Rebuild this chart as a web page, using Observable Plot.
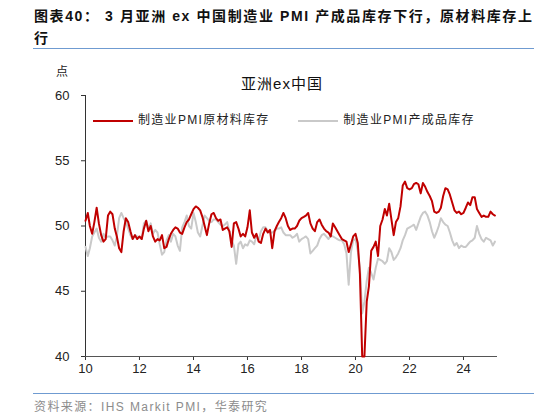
<!DOCTYPE html>
<html>
<head>
<meta charset="utf-8">
<script src="https://cdn.jsdelivr.net/npm/d3@7"></script>
<script src="https://cdn.jsdelivr.net/npm/@observablehq/plot@0.6"></script>
<style>
  body { margin: 0; background: #fff; font-family: "Liberation Sans", "Noto Sans CJK SC", sans-serif; }
  #wrap { position: relative; width: 534px; height: 417px; overflow: hidden; }
  #title { position: absolute; left: 34px; top: 5px; width: 510px; font-size: 14px; font-weight: bold; line-height: 22px; letter-spacing: 1.6px; color: #111; white-space: nowrap; }
  .rule { position: absolute; left: 33px; width: 501px; height: 1px; background: #6f9bd1; }
  #unit { position: absolute; left: 56px; top: 62px; font-size: 12px; color: #222; }
  #sub { position: absolute; left: 15px; width: 534px; top: 72px; text-align: center; font-size: 15px; color: #111; letter-spacing: 1px; }
  #legend { position: absolute; left: 93px; top: 110px; font-size: 12px; color: #222; letter-spacing: 1.3px; white-space: nowrap; }
  #legend span.sw { display: inline-block; width: 40px; height: 2px; vertical-align: middle; margin-right: 5px; }
  #legend span.item { display: inline-block; margin-right: 24px; }
  #chart { position: absolute; left: 0; top: 55px; }
  #source { position: absolute; left: 34px; top: 397px; font-size: 12px; color: #8c8c8c; letter-spacing: 1.4px; }
</style>
</head>
<body>
<div id="wrap">
  <div id="title">图表40： 3 月亚洲 ex 中国制造业 PMI 产成品库存下行，原材料库存上<br>行</div>
  <div class="rule" style="top:48px"></div>
  <div id="unit">点</div>
  <div id="sub">亚洲ex中国</div>
  <div id="chart"></div>
  <div id="legend">
    <span class="item"><span class="sw" style="background:#c00000"></span>制造业PMI原材料库存</span>
    <span class="item"><span class="sw" style="background:#c9c9c9"></span>制造业PMI产成品库存</span>
  </div>
  <div class="rule" style="top:393px"></div>
  <div id="source">资料来源：IHS Markit PMI，华泰研究</div>
</div>
<script>
// monthly readings, Jan 2010 .. Mar 2025
var startYear = 2010;
var rawMaterials = [
  50.4, 51.0, 50.0, 49.4, 50.3, 51.4, 50.2, 49.3, 48.8, 49.0, 50.8, 51.1,
  50.9, 49.8, 49.2, 48.3, 48.0, 49.6, 50.6, 50.3, 49.6, 49.0, 49.3, 49.0,
  49.2, 49.0, 49.8, 50.4, 49.6, 50.0, 49.2, 48.8, 49.0, 48.9, 49.3, 48.3,
  48.4, 49.0, 49.4, 49.7, 49.9, 49.8, 49.5, 49.4, 49.9, 50.3, 50.5, 50.9,
  51.3, 51.5, 51.4, 51.2, 50.7, 50.0, 49.3, 50.2, 50.9, 51.0, 50.6, 50.4,
  50.5, 49.7, 49.8, 49.9, 49.6, 48.4, 50.2, 50.3, 49.8, 49.2, 49.4, 49.2,
  49.9, 51.2, 49.5, 49.1, 49.4, 48.8, 48.7, 49.4, 49.8, 49.5, 49.7, 48.3,
  49.6, 50.0, 50.3, 50.6, 51.0, 50.6, 50.0, 49.7, 49.8, 49.8, 50.0, 50.4,
  50.6, 50.7, 50.8, 51.0, 50.2, 49.8, 49.6, 50.3, 50.5, 50.1, 49.8, 49.6,
  49.5, 49.2, 50.2, 49.9, 49.6, 49.3, 49.0, 48.9, 48.8, 48.0, 48.6, 49.2,
  49.4, 48.7, 46.3, 40.0, 40.0, 44.2, 45.4, 48.1, 48.4, 48.8, 47.7, 50.0,
  50.5, 51.3, 50.8, 51.7, 50.5, 49.3, 50.3, 50.6, 51.5, 53.1, 53.4, 52.9,
  52.8, 52.9, 53.2, 53.3, 53.2, 52.5, 53.3, 53.0, 52.6, 52.3, 51.9, 51.1,
  51.0, 51.1, 51.4, 52.3, 52.9, 52.8, 52.4, 51.8, 51.2, 51.0, 51.1, 50.9,
  51.0, 51.4, 51.8, 51.6, 52.2, 52.2, 51.3, 51.0, 50.7, 50.8, 50.7, 50.7,
  51.1, 50.9, 50.8
];
var finishedGoods = [
  48.4, 47.7, 48.3, 49.2, 49.5, 49.8, 49.1, 48.8, 49.4, 49.1, 49.2, 49.2,
  48.9, 48.5, 49.2, 50.6, 51.0, 50.6, 50.3, 49.8, 49.3, 49.0, 49.3, 49.2,
  49.1, 49.0, 50.2, 50.4, 49.8, 50.2, 49.4, 49.7, 49.5, 48.6, 47.8, 48.0,
  48.9, 49.3, 48.8, 49.4, 49.2, 48.5, 48.1, 49.9, 50.3, 50.8, 50.0, 49.8,
  51.0, 50.3, 49.5, 49.2, 50.0, 50.8, 50.6, 50.4, 50.3, 50.5, 50.5, 50.3,
  50.1, 50.0, 50.1, 50.3, 49.6, 48.9, 48.5, 47.1, 48.6, 48.8, 48.3, 48.6,
  48.5, 48.9, 48.8, 48.6, 49.3, 48.9, 49.6, 49.9, 49.9, 49.6, 49.5, 49.5,
  49.6, 49.8, 49.8, 49.9, 49.5, 49.3, 49.3, 49.3, 49.1, 49.2, 49.4, 48.8,
  49.0, 49.1, 49.2, 49.0, 47.9, 48.1, 48.3, 48.5, 49.0, 49.3, 49.4, 49.2,
  49.0, 49.3, 49.2, 49.1, 49.0, 48.9, 48.9, 48.6, 47.9, 45.5, 48.0, 48.9,
  49.0, 48.1, 46.8, 43.3, 44.2, 45.8, 46.8, 46.4, 45.9, 46.8, 47.5, 47.4,
  47.3, 47.1, 47.3, 48.3, 48.0, 47.4, 47.6, 47.9, 48.3, 48.9, 49.3, 49.8,
  49.9, 50.0, 50.1, 49.7, 50.2, 50.7, 51.0, 51.1, 50.8, 50.3, 49.6, 49.1,
  49.5, 50.0, 50.6, 50.3, 50.1, 50.0, 49.5, 48.9, 48.5, 48.7, 48.3, 48.5,
  48.4, 48.4, 48.6, 48.8, 48.9, 49.1, 50.0, 49.4, 49.0, 48.8, 49.1, 49.0,
  48.9, 48.5, 48.8
];
var yTicks = [40, 45, 50, 55, 60];
var xTickYears = [2010, 2012, 2014, 2016, 2018, 2020, 2022, 2024];

function monthRows(values) {
  return values.map(function (v, i) { return { date: new Date(startYear, i, 1), value: v }; });
}

var chart = Plot.plot({
  width: 534,
  height: 340,
  marginLeft: 85,
  marginRight: 37,
  marginTop: 40,
  marginBottom: 39,
  style: { fontFamily: '"Liberation Sans", Arial, sans-serif', fontSize: '13px', color: '#222', background: 'transparent' },
  x: { type: 'time', domain: [new Date(2010, 0, 1), new Date(2025, 3, 5)] },
  y: { domain: [40, 60] },
  marks: [
    Plot.axisY({ ticks: yTicks, tickSize: 4, tickPadding: 12, label: null, stroke: '#333' }),
    Plot.axisX({ ticks: xTickYears.map(function (y) { return new Date(y, 0, 1); }), tickSize: 4, tickPadding: 3, label: null,
      tickFormat: function (d) { return String(d.getFullYear()).slice(2); }, stroke: '#333' }),
    Plot.ruleX([new Date(2010, 0, 1)], { stroke: '#333' }),
    Plot.ruleY([40], { stroke: '#555', strokeWidth: 1.2 }),
    Plot.lineY(monthRows(finishedGoods), { x: 'date', y: 'value', stroke: '#c9c9c9', strokeWidth: 2 }),
    Plot.lineY(monthRows(rawMaterials), { x: 'date', y: 'value', stroke: '#c00000', strokeWidth: 2 })
  ]
});
document.getElementById('chart').appendChild(chart);
</script>
</body>
</html>
